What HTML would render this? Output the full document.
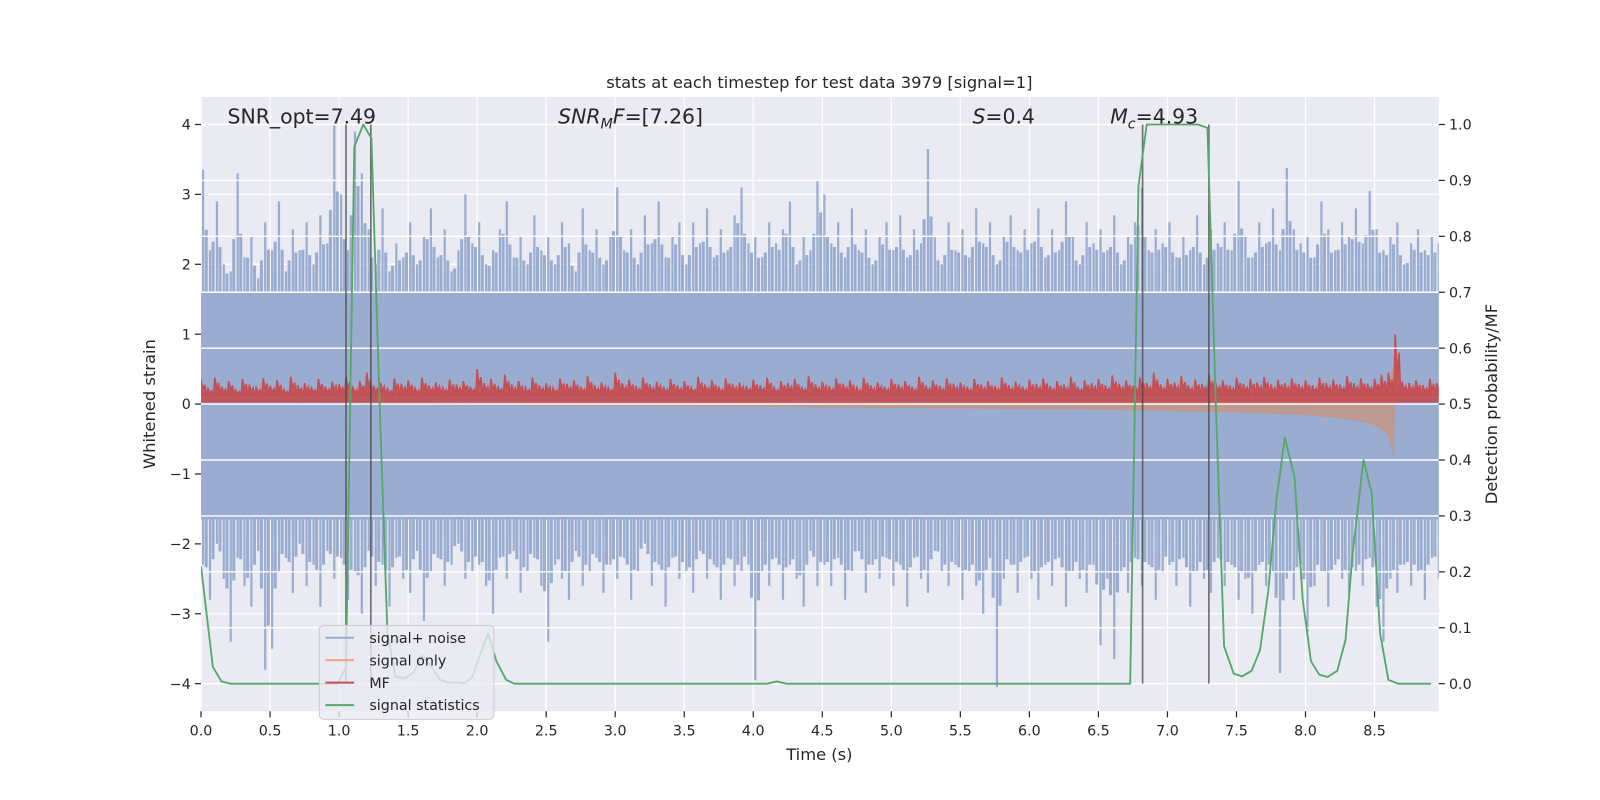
<!DOCTYPE html>
<html><head><meta charset="utf-8"><style>
html,body{margin:0;padding:0;background:#fff;width:1600px;height:800px;overflow:hidden;}
svg{display:block;font-family:"DejaVu Sans","Liberation Sans",sans-serif;}
</style></head><body>
<svg id="chart" width="1600" height="800" viewBox="0 0 1568 784" xmlns="http://www.w3.org/2000/svg">
<defs><clipPath id="clip"><rect x="197" y="95" width="1213" height="602"/></clipPath></defs>
<rect x="0" y="0" width="1600" height="800" fill="#ffffff"/>
<rect x="197" y="95" width="1213" height="602" fill="#eaeaf2"/>
<g id="gridL"></g>
<g id="blue" clip-path="url(#clip)"></g>
<g id="orange" clip-path="url(#clip)"></g>
<g id="red" clip-path="url(#clip)"></g>
<g id="gridR"></g>
<g id="vlines"></g>
<g id="green" clip-path="url(#clip)"></g>
<g id="ticks"></g>
<text x="803" y="86" font-size="16" text-anchor="middle" fill="#262626">stats at each timestep for test data 3979 [signal=1]</text>
<text x="223" y="121" font-size="20" fill="#262626">SNR_opt=7.49</text>
<text x="547" y="121" font-size="20" fill="#262626"><tspan font-style="italic">SNR</tspan><tspan font-style="italic" font-size="14" dy="5">M</tspan><tspan font-style="italic" dy="-5">F</tspan>=[7.26]</text>
<text x="953" y="121" font-size="20" fill="#262626"><tspan font-style="italic">S</tspan>=0.4</text>
<text x="1088" y="121" font-size="20" fill="#262626"><tspan font-style="italic">M</tspan><tspan font-style="italic" font-size="14" dy="5">c</tspan><tspan dy="-5">=4.93</tspan></text>
<text x="803" y="745" font-size="16" text-anchor="middle" fill="#262626">Time (s)</text>
<text transform="translate(152,396) rotate(-90)" font-size="16" text-anchor="middle" fill="#262626">Whitened strain</text>
<text transform="translate(1467,396) rotate(-90)" font-size="16" text-anchor="middle" fill="#262626">Detection probability/MF</text>
<g>
<rect x="313" y="613" width="171" height="92" rx="4" fill="#eaeaf2" fill-opacity="0.8" stroke="#cccccc"/>
<line x1="319" y1="625" x2="347" y2="625" stroke="#9aadd1" stroke-width="2"/>
<text x="362" y="630" font-size="14" fill="#262626">signal+ noise</text>
<line x1="319" y1="647" x2="347" y2="647" stroke="#eaa98a" stroke-width="2"/>
<text x="362" y="652" font-size="14" fill="#262626">signal only</text>
<line x1="319" y1="669" x2="347" y2="669" stroke="#c44e52" stroke-width="2"/>
<text x="362" y="674" font-size="14" fill="#262626">MF</text>
<line x1="319" y1="691" x2="347" y2="691" stroke="#55a868" stroke-width="2"/>
<text x="362" y="696" font-size="14" fill="#262626">signal statistics</text>
</g>
</svg>
<script>
const xTicks = [0,0.5,1,1.5,2,2.5,3,3.5,4,4.5,5,5.5,6,6.5,7,7.5,8,8.5];
const yTicksLeft = [-4,-3,-2,-1,0,1,2,3,4];
const yTicksRight = [0,0.1,0.2,0.3,0.4,0.5,0.6,0.7,0.8,0.9,1.0];
const noiseDt = 0.05;
const noiseUpper = [3.35,2.2,2.9,2.0,1.9,3.3,2.1,2.4,1.8,2.6,
2.2,2.9,1.9,2.5,2.2,2.6,2.0,2.7,2.3,4.0,
3.0,2.2,3.9,3.3,2.5,2.0,2.8,1.9,2.3,2.1,
2.6,2.0,2.4,2.8,2.1,2.5,1.9,2.2,3.0,2.3,
2.6,2.0,2.2,2.5,2.9,2.1,2.4,2.0,2.7,2.2,
2.4,2.0,2.6,2.3,1.9,2.8,2.2,2.5,2.0,2.4,
3.1,2.2,2.5,2.0,2.7,2.3,2.9,2.1,2.4,2.6,
2.0,2.6,2.3,2.8,2.1,2.5,2.2,2.7,3.1,2.3,
2.4,2.1,2.6,2.3,2.5,2.9,2.0,2.4,2.2,3.2,
3.0,2.3,2.6,2.1,2.8,2.2,2.5,2.0,2.4,2.6,
2.2,2.7,2.1,2.5,2.3,3.65,2.4,2.0,2.6,2.2,
2.5,2.1,2.8,2.3,2.6,2.0,2.4,2.7,2.2,2.5,
2.3,2.8,2.1,2.5,2.2,2.9,2.4,2.0,2.6,2.3,
2.5,2.2,2.7,2.0,2.4,2.6,3.1,2.2,2.5,2.3,
2.6,2.1,2.4,2.2,2.7,2.0,2.5,2.3,2.6,2.2,
3.2,2.4,2.1,2.6,2.3,2.8,2.2,3.38,2.5,2.3,
2.4,2.1,2.9,2.5,2.2,2.6,2.4,2.8,2.3,3.05,
2.5,2.2,2.4,2.6,2.0,2.3,2.5,2.2,2.4,2.3];
const noiseLower = [-2.3,-2.8,-2.0,-2.5,-3.4,-2.2,-2.6,-2.9,-2.1,-3.8,
-3.5,-2.4,-2.2,-2.7,-2.0,-2.6,-2.3,-2.9,-2.1,-2.5,
-2.2,-2.8,-2.4,-3.0,-2.1,-2.6,-2.3,-2.9,-2.2,-2.5,
-2.7,-2.1,-3.1,-2.4,-2.2,-2.6,-2.3,-2.0,-2.5,-2.4,
-2.3,-2.6,-3.0,-2.2,-2.5,-2.1,-2.7,-2.4,-2.2,-2.6,
-3.4,-2.3,-2.5,-2.8,-2.1,-2.6,-2.4,-2.2,-2.7,-2.3,
-2.5,-2.2,-2.8,-2.4,-2.0,-2.6,-2.3,-2.9,-2.2,-2.5,
-2.4,-2.7,-2.1,-2.5,-2.3,-2.8,-2.2,-2.6,-2.4,-2.3,
-3.95,-2.4,-2.6,-2.2,-2.8,-2.3,-2.5,-2.9,-2.1,-2.6,
-2.3,-2.6,-2.2,-2.8,-2.4,-2.1,-2.7,-2.3,-2.5,-2.2,
-2.6,-2.3,-2.9,-2.2,-2.5,-2.7,-2.1,-2.4,-2.6,-2.3,
-2.8,-2.4,-2.6,-3.0,-2.2,-4.05,-2.5,-2.3,-2.7,-2.2,
-2.5,-2.8,-2.3,-2.6,-2.2,-2.9,-2.4,-2.5,-2.7,-2.3,
-3.45,-2.5,-3.65,-2.4,-2.7,-2.2,-2.6,-2.3,-2.8,-2.4,
-2.3,-2.6,-2.2,-2.9,-2.4,-2.5,-2.7,-2.2,-2.6,-2.3,
-2.8,-2.5,-3.0,-2.3,-2.6,-2.4,-3.85,-2.5,-2.8,-2.3,
-3.25,-2.6,-2.4,-2.9,-2.3,-2.5,-2.7,-2.4,-2.6,-2.2,
-2.9,-3.4,-2.5,-2.7,-2.3,-2.6,-2.4,-2.8,-2.2,-2.5];
const noiseBand = [1.6,-1.65];
const mfDt = 0.05;
const mfValues = [0.35,0.22,0.38,0.25,0.33,0.2,0.36,0.28,0.24,0.37,
0.26,0.34,0.21,0.39,0.27,0.3,0.23,0.36,0.25,0.32,
0.28,0.4,0.24,0.33,0.45,0.26,0.31,0.22,0.37,0.29,
0.34,0.23,0.38,0.27,0.31,0.24,0.35,0.28,0.33,0.25,
0.5,0.3,0.36,0.26,0.42,0.28,0.33,0.24,0.38,0.27,
0.3,0.23,0.37,0.29,0.34,0.25,0.4,0.27,0.31,0.24,
0.45,0.3,0.35,0.26,0.38,0.28,0.32,0.25,0.36,0.27,
0.33,0.24,0.39,0.28,0.34,0.25,0.37,0.29,0.31,0.26,
0.35,0.27,0.38,0.24,0.33,0.3,0.36,0.25,0.4,0.28,
0.32,0.26,0.37,0.29,0.34,0.24,0.38,0.27,0.31,0.25,
0.36,0.28,0.33,0.25,0.39,0.27,0.34,0.26,0.37,0.29,
0.31,0.25,0.36,0.28,0.33,0.26,0.38,0.27,0.32,0.25,
0.35,0.29,0.37,0.26,0.33,0.28,0.39,0.25,0.34,0.3,
0.36,0.27,0.41,0.29,0.34,0.26,0.38,0.3,0.45,0.28,
0.36,0.31,0.4,0.27,0.35,0.29,0.42,0.3,0.34,0.27,
0.38,0.29,0.36,0.31,0.39,0.28,0.35,0.3,0.37,0.29,
0.34,0.27,0.38,0.3,0.35,0.28,0.4,0.3,0.37,0.29,
0.36,0.42,0.45,1.0,0.32,0.3,0.34,0.27,0.36,0.3];
const mfFloor = 0.12;
const sigTimes = [0,1,2,3,4,5,6,6.5,7,7.5,8,8.2,8.4,8.5,8.6,8.64,8.65];
const sigAmp = [0.005,0.01,0.02,0.03,0.04,0.055,0.07,0.08,0.1,0.12,0.16,0.19,0.25,0.3,0.45,0.8,0];
const statTimes = [0,0.086,0.148,0.21,0.99,1.05,1.11,1.175,1.234,1.29,1.35,1.41,1.48,1.54,1.60,1.67,1.73,1.79,1.85,1.91,1.96,2.02,2.08,2.14,2.21,2.27,4.1,4.17,4.24,6.73,6.79,6.85,7.22,7.29,7.35,7.41,7.48,7.54,7.61,7.67,7.73,7.79,7.85,7.92,7.98,8.04,8.10,8.16,8.23,8.29,8.34,8.42,8.48,8.54,8.60,8.67,8.91];
const statValues = [0.21,0.03,0.004,0,0,0.03,0.96,1.0,0.975,0.53,0.09,0.012,0.01,0.02,0.05,0.03,0.007,0.002,0.002,0.001,0.01,0.05,0.09,0.04,0.007,0,0,0.004,0,0,0.89,1.0,1.0,0.994,0.5,0.067,0.018,0.013,0.023,0.06,0.166,0.33,0.44,0.37,0.15,0.04,0.016,0.012,0.023,0.078,0.23,0.40,0.34,0.09,0.007,0,0];
const markerTimes = [1.05,1.23,6.82,7.3];

const NS = "http://www.w3.org/2000/svg";
const X0 = 197, XR = 1410, YT = 95, YB = 697;
function xs(t){ return X0 + t*135.3; }
function yl(v){ return 396 - v*68.5; }
function yr(p){ return 670 - p*548; }
function mk(tag, attrs, parent){
  const e = document.createElementNS(NS, tag);
  for (const k in attrs) e.setAttribute(k, attrs[k]);
  parent.appendChild(e);
  return e;
}
const gL = document.getElementById('gridL');
xTicks.forEach(t => {
  const l = mk('line', {x1:xs(t), x2:xs(t), y1:YT, y2:YB, stroke:'#fff', 'stroke-width':1.2}, gL);
  
  
});
yTicksLeft.forEach(v => {
  const l = mk('line', {x1:X0, x2:XR, y1:yl(v), y2:yl(v), stroke:'#fff', 'stroke-width':1.2}, gL);
  
  
});
// blue
const gB = document.getElementById('blue');
const band = mk('rect', {x:X0, y:yl(noiseBand[0]), width:XR-X0, height:yl(noiseBand[1])-yl(noiseBand[0]), fill:'#9aadd1'}, gB);


function spikes(arr, name){
  let d = '', d2 = '';
  const base = arr[0] > 0 ? noiseBand[0] : noiseBand[1];
  arr.forEach((v,i) => {
    const x = xs(i*noiseDt + noiseDt*0.3);
    d += 'M'+x.toFixed(1)+' '+yl(0)+'V'+yl(v).toFixed(1);
    const nb = arr[(i+1) % arr.length];
    const x2 = xs(i*noiseDt + noiseDt*0.75);
    d2 += 'M'+x2.toFixed(1)+' '+yl(0)+'V'+yl(base + (nb+v-2*base)*0.38).toFixed(1);
  });
  const p = mk('path', {d:d, stroke:'#9aadd1', 'stroke-width':2.2, fill:'none'}, gB);
  
  
  const p2 = mk('path', {d:d2, stroke:'#9aadd1', 'stroke-width':3, fill:'none'}, gB);
  
  
}
spikes(noiseUpper, 'noise-upper-spikes');
spikes(noiseLower, 'noise-lower-spikes');
// orange
const gO = document.getElementById('orange');
let pts = sigTimes.map((t,i)=> xs(t).toFixed(1)+','+yl(-sigAmp[i]).toFixed(1));
for (let i=sigTimes.length-1;i>=0;i--) pts.push(xs(sigTimes[i]).toFixed(1)+','+yl(sigAmp[i]*0.7).toFixed(1));
const op = mk('polygon', {points:pts.join(' '), fill:'#bc9991'}, gO);


// red
const gR = document.getElementById('red');
let rp = [];
mfValues.forEach((v,i) => {
  rp.push(xs(i*mfDt).toFixed(1)+','+yl(v).toFixed(1));
  rp.push(xs(i*mfDt+mfDt*0.3).toFixed(1)+','+yl(mfFloor + (v-mfFloor)*0.35).toFixed(1));
  rp.push(xs(i*mfDt+mfDt*0.55).toFixed(1)+','+yl(mfFloor + (v-mfFloor)*0.7).toFixed(1));
  rp.push(xs(i*mfDt+mfDt*0.8).toFixed(1)+','+yl(mfFloor).toFixed(1));
});
const rbase = mk('rect', {x:X0, y:yl(mfFloor+0.02), width:XR-X0, height:yl(0.02)-yl(mfFloor+0.02), fill:'#c44e52', 'fill-opacity':0.9}, gR);


const rfill = mk('polygon', {points: xs(0)+','+yl(mfFloor)+' '+rp.join(' ')+' '+xs((mfValues.length)*mfDt)+','+yl(mfFloor), fill:'#c44e52', 'fill-opacity':0.9}, gR);


const rline = mk('polyline', {points: rp.join(' '), fill:'none', stroke:'#c44e52', 'stroke-width':1.5}, gR);


// right grid
const gRr = document.getElementById('gridR');
yTicksRight.forEach(p => {
  const l = mk('line', {x1:X0, x2:XR, y1:yr(p), y2:yr(p), stroke:'#fff', 'stroke-width':1.4}, gRr);
  
  
});
// marker lines
const gV = document.getElementById('vlines');
markerTimes.forEach(t => {
  const l = mk('line', {x1:xs(t), x2:xs(t), y1:yr(1), y2:yr(0), stroke:'#444', 'stroke-opacity':0.75, 'stroke-width':1.6}, gV);
  
  
});
// green
const gG = document.getElementById('green');
const gl = mk('polyline', {points: statTimes.map((t,i)=>xs(t).toFixed(1)+','+yr(statValues[i]).toFixed(1)).join(' '), fill:'none', stroke:'#55a868', 'stroke-width':1.8, 'stroke-linejoin':'round'}, gG);


// ticks
const gT = document.getElementById('ticks');
xTicks.forEach(t => {
  const tk = mk('line', {x1:xs(t), x2:xs(t), y1:YB, y2:YB+6, stroke:'#262626', 'stroke-width':1.2}, gT);
  
  
  const tx = mk('text', {x:xs(t), y:YB+24, 'font-size':14, 'text-anchor':'middle', fill:'#262626'}, gT);
  tx.textContent = t.toFixed(1);
  
  
});
yTicksLeft.forEach(v => {
  const tk = mk('line', {x1:X0-6, x2:X0, y1:yl(v), y2:yl(v), stroke:'#262626', 'stroke-width':1.2}, gT);
  
  
  const tx = mk('text', {x:X0-10, y:yl(v)+5, 'font-size':14, 'text-anchor':'end', fill:'#262626'}, gT);
  tx.textContent = v < 0 ? '\u2212' + Math.abs(v) : String(v);
  
  
});
yTicksRight.forEach(p => {
  const tk = mk('line', {x1:XR, x2:XR+6, y1:yr(p), y2:yr(p), stroke:'#262626', 'stroke-width':1.2}, gT);
  
  
  const tx = mk('text', {x:XR+10, y:yr(p)+5, 'font-size':14, 'text-anchor':'start', fill:'#262626'}, gT);
  tx.textContent = p.toFixed(1);
  
  
});
</script>
</body></html>
